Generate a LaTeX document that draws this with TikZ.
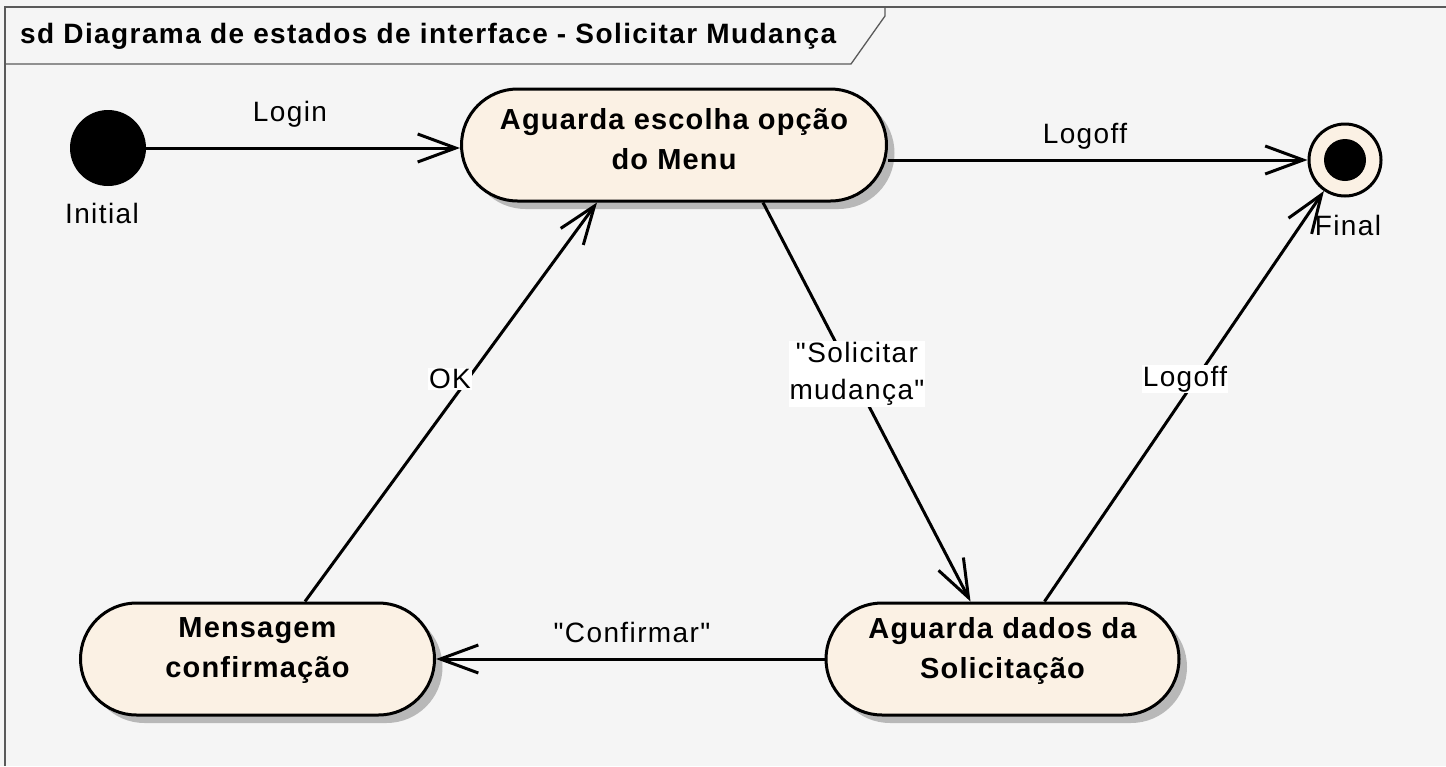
\documentclass[tikz,border=0pt]{standalone}
\usepackage{fontspec}
\setmainfont{Liberation Sans}
\newfontfamily\lblfont[LetterSpace=5]{Liberation Sans}
\newfontfamily\stfont[LetterSpace=4]{Liberation Sans}
\newfontfamily\ttlfont[LetterSpace=5]{Liberation Sans}
\usetikzlibrary{arrows.meta,shadows,calc}
\definecolor{statefill}{RGB}{251,241,228}
\definecolor{bgc}{RGB}{245,245,245}
\definecolor{framec}{RGB}{90,90,90}
\begin{document}
\begin{tikzpicture}[x=1pt,y=-1pt,
  stateshape/.style={draw, line width=3pt, fill=statefill, rounded corners=56pt,
    minimum height=112pt, inner sep=0pt,
    drop shadow={shadow xshift=8pt, shadow yshift=-8pt, fill=black!28, opacity=1}},
  statetext/.style={font=\stfont\bfseries\fontsize{29}{40}\selectfont, align=center, inner sep=0pt},
  lbl/.style={font=\lblfont\fontsize{28}{37}\selectfont, inner sep=1pt, align=center},
  lblbg/.style={lbl, fill=white},
  tr/.style={line width=3pt, -{Straight Barb[length=38pt, width=28pt]}}
]
\useasboundingbox (0,0) rectangle (1446,766);
\fill[bgc] (0,0) rectangle (1446,766);
% frame
\draw[framec, line width=1.3pt] (1446,7) -- (5,7) -- (5,766);
\draw[framec, line width=1.3pt] (5,64) -- (851,64) -- (885,16) -- (885,7);
\node[anchor=west, font=\ttlfont\bfseries\fontsize{28}{32}\selectfont, inner sep=0pt] (title) at (20,36) {sd Diagrama de estados de interface - Solicitar Mudança};

% states
\node[stateshape, minimum width=425pt] (s1) at (674,145) {};
\node[statetext] (s1t) at (674,139) {Aguarda escolha opção\\do Menu};
\node[stateshape, minimum width=353pt] (s3) at (1002.5,659) {};
\node[statetext] (s3t) at (1002.5,651) {Aguarda dados da\\Solicitação};
\node[stateshape, minimum width=354pt] (ms) at (257.5,659) {};
\node[statetext] (mst) at (257.5,651) {Mensagem\\confirmação};

% initial and final
\node[circle, fill=black, minimum size=76pt, inner sep=0pt] (init) at (108,148) {};
\node[lbl] (initl) at (102,213) {Initial};
\node[circle, draw, line width=3pt, fill=statefill, minimum size=72pt, inner sep=0pt] (fin) at (1345,160) {};
\node[circle, fill=black, minimum size=42pt, inner sep=0pt] (finin) at (fin) {};

% transitions
\draw[tr] (init) -- (init -| s1.west);
\node[lbl] (llogin) at (290,114) {Login};

\draw[tr] (fin.west -| s1.east) -- (fin.west);
\node[lbl] (llogoff1) at (1085,136) {Logoff};

\coordinate (solA) at ($(s1.south west)+(303,0)$);
\coordinate (solB) at ($(s3.north west)+(146,0)$);
\draw[tr] (solA) -- (solB);
\node[lblbg] (lsol) at (857,374) {"Solicitar\\mudança"};

\coordinate (lgA) at ($(s3.north west)+(220,0)$);
\draw[tr] (lgA) -- (fin);
\node[lbl] (finl) at (1348,225) {Final};
\node[lblbg] (llogoff2) at (1185,379) {Logoff};

\draw[tr] (s3.west) -- (ms.east);
\node[lbl] (lconf) at (632,632) {"Confirmar"};

\coordinate (okA) at ($(ms.north west)+(226,0)$);
\coordinate (okB) at ($(s1.south west)+(137,0)$);
\draw[tr] (okA) -- (okB);
\node[lblbg] (lok) at (450,379) {OK};
\end{tikzpicture}
\end{document}
